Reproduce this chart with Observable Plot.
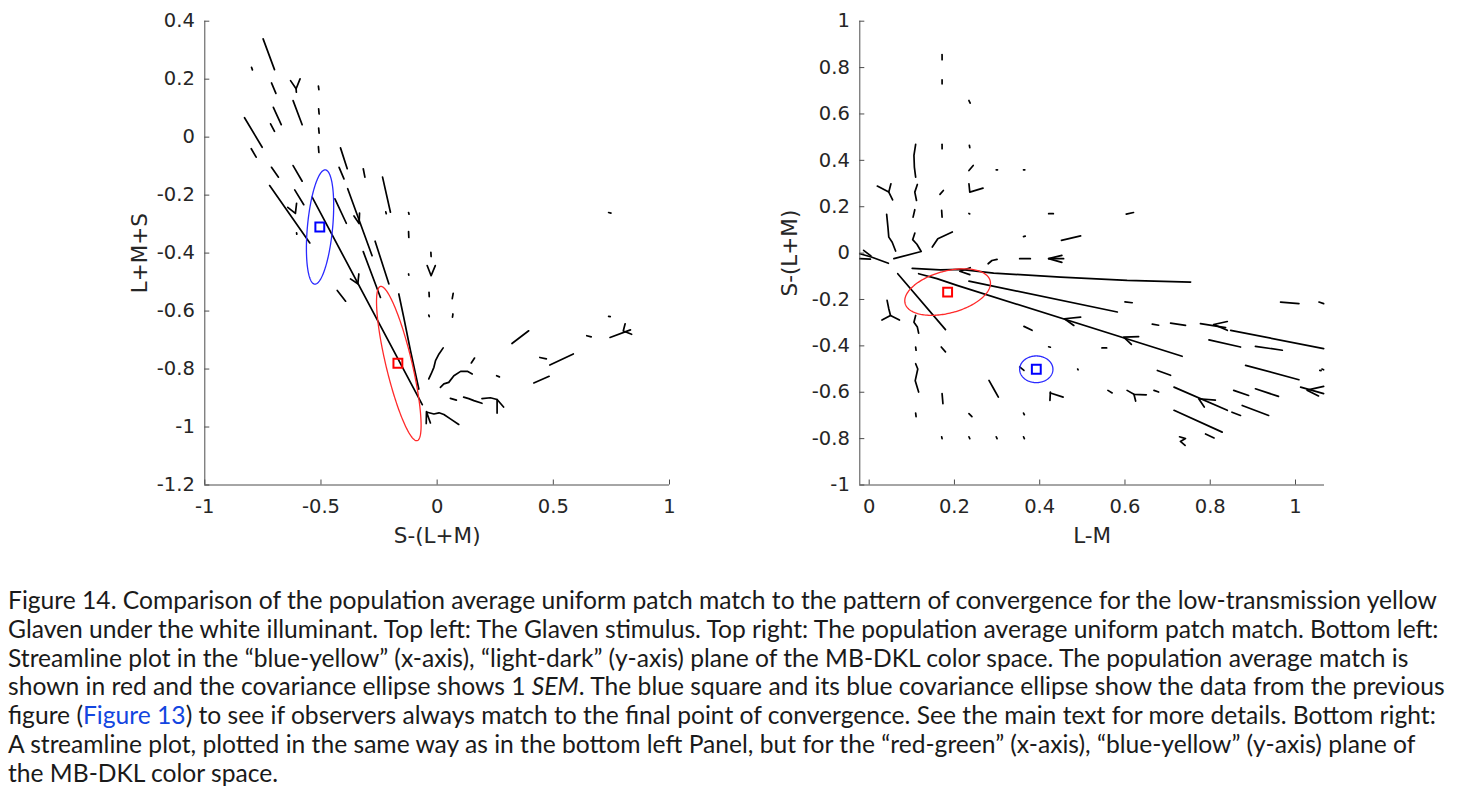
<!DOCTYPE html>
<html><head><meta charset="utf-8">
<script src="https://cdn.jsdelivr.net/npm/d3@7"></script>
<script src="https://cdn.jsdelivr.net/npm/@observablehq/plot@0.6"></script>
<style>
html,body{margin:0;padding:0;background:#fff;width:1460px;height:802px;overflow:hidden}
#charts{position:absolute;left:0;top:0;display:flex}
#charts svg{display:block}
#caption{position:absolute;left:8px;top:586px;font-family:Lato,"Open Sans",sans-serif;color:#1a1a1a;white-space:nowrap}
#caption .link{color:#1346e0}
</style></head><body>
<div id="charts"></div>
<div id="caption"></div>
<script>
// ---------------- data ----------------
const leftXTicks = [-1, -0.5, 0, 0.5, 1];
const leftYTicks = [0.4, 0.2, 0, -0.2, -0.4, -0.6, -0.8, -1, -1.2];
const rightXTicks = [0, 0.2, 0.4, 0.6, 0.8, 1];
const rightYTicks = [1, 0.8, 0.6, 0.4, 0.2, 0, -0.2, -0.4, -0.6, -0.8, -1];
const leftXLabel = "S-(L+M)";
const leftYLabel = "L+M+S";
const rightXLabel = "L-M";
const rightYLabel = "S-(L+M)";
const leftXDomain = [-1, 1];
const leftYDomain = [-1.2, 0.4];
const rightXDomain = [-0.022, 1.068];
const rightYDomain = [-1, 1];

// streamline segments (and their arrow heads), S-(L+M) vs L+M+S
const leftStreamlines = [
  [[-0.749,0.339],[-0.700,0.233]],
  [[-0.799,0.241],[-0.795,0.232]],
  [[-0.713,0.187],[-0.694,0.151]],
  [[-0.631,0.195],[-0.607,0.167],[-0.590,0.201]],
  [[-0.607,0.167],[-0.606,0.155]],
  [[-0.511,0.176],[-0.509,0.164]],
  [[-0.705,0.103],[-0.671,0.043]],
  [[-0.717,0.046],[-0.700,0.020]],
  [[-0.620,0.126],[-0.581,0.043]],
  [[-0.510,0.098],[-0.508,0.080]],
  [[-0.510,0.031],[-0.508,0.014]],
  [[-0.829,0.067],[-0.753,-0.035]],
  [[-0.800,-0.040],[-0.779,-0.069]],
  [[-0.511,-0.033],[-0.509,-0.053]],
  [[-0.416,-0.037],[-0.387,-0.109]],
  [[-0.422,-0.104],[-0.401,-0.144]],
  [[-0.318,-0.109],[-0.311,-0.138]],
  [[-0.713,-0.104],[-0.683,-0.138]],
  [[-0.620,-0.098],[-0.581,-0.152]],
  [[-0.235,-0.138],[-0.201,-0.259]],
  [[-0.221,-0.258],[-0.219,-0.264]],
  [[-0.613,-0.182],[-0.574,-0.233]],
  [[-0.643,-0.242],[-0.610,-0.263],[-0.605,-0.228]],
  [[-0.721,-0.167],[-0.548,-0.365]],
  [[-0.605,-0.330],[-0.604,-0.335]],
  [[-0.538,-0.207],[-0.064,-0.923]],
  [[-0.373,-0.489],[-0.3415,-0.506],[-0.337,-0.472]],
  [[-0.440,-0.213],[-0.391,-0.297]],
  [[-0.385,-0.178],[-0.280,-0.409]],
  [[-0.358,-0.272],[-0.336,-0.298],[-0.334,-0.262]],
  [[-0.123,-0.260],[-0.121,-0.266]],
  [[-0.123,-0.326],[-0.122,-0.346]],
  [[-0.123,-0.472],[-0.122,-0.476]],
  [[-0.027,-0.397],[-0.026,-0.412]],
  [[-0.043,-0.443],[-0.026,-0.478],[-0.008,-0.443]],
  [[-0.035,-0.535],[-0.034,-0.550]],
  [[-0.036,-0.614],[-0.034,-0.619]],
  [[0.069,-0.539],[0.065,-0.557]],
  [[0.068,-0.610],[0.066,-0.621]],
  [[-0.318,-0.395],[-0.244,-0.553]],
  [[-0.267,-0.359],[-0.208,-0.506]],
  [[-0.430,-0.529],[-0.394,-0.566]],
  [[-0.165,-0.541],[-0.144,-0.621],[-0.115,-0.736],[-0.079,-0.869]],
  [[-0.043,-0.949],[-0.014,-0.955],[0.008,-0.951],[0.029,-0.957],[0.057,-0.972],[0.093,-0.991]],
  [[-0.047,-0.988],[-0.046,-0.947],[-0.029,-0.986]],
  [[-0.036,-0.834],[-0.026,-0.817],[-0.014,-0.794],[-0.007,-0.771],[0.008,-0.748],[0.026,-0.727]],
  [[0.014,-0.863],[0.029,-0.851],[0.050,-0.846],[0.072,-0.823],[0.101,-0.808],[0.130,-0.808],[0.151,-0.817]],
  [[0.057,-0.901],[0.083,-0.907]],
  [[0.114,-0.897],[0.136,-0.902],[0.158,-0.909],[0.193,-0.918]],
  [[0.193,-0.902],[0.229,-0.899],[0.258,-0.905],[0.286,-0.931]],
  [[0.258,-0.905],[0.258,-0.952]],
  [[0.147,-0.779],[0.161,-0.762]],
  [[0.256,-0.823],[0.268,-0.827]],
  [[0.322,-0.712],[0.394,-0.668]],
  [[0.442,-0.760],[0.470,-0.765]],
  [[0.485,-0.786],[0.586,-0.748]],
  [[0.416,-0.848],[0.482,-0.825]],
  [[0.644,-0.685],[0.663,-0.689]],
  [[0.738,-0.618],[0.745,-0.619]],
  [[0.738,-0.260],[0.748,-0.262]],
  [[0.744,-0.691],[0.832,-0.665]],
  [[0.809,-0.644],[0.801,-0.669],[0.837,-0.680]]
];

// streamline segments (and their arrow heads), L-M vs S-(L+M)
const rightStreamlines = [
  [[0.171,0.856],[0.171,0.834]],
  [[0.171,0.747],[0.171,0.730]],
  [[0.234,0.658],[0.237,0.647]],
  [[0.171,0.469],[0.171,0.450]],
  [[0.235,0.465],[0.236,0.455]],
  [[0.109,0.469],[0.105,0.421],[0.106,0.371],[0.109,0.328]],
  [[0.234,0.356],[0.244,0.378]],
  [[0.298,0.359],[0.301,0.359]],
  [[0.362,0.359],[0.365,0.359]],
  [[0.019,0.289],[0.046,0.263],[0.051,0.299]],
  [[0.046,0.263],[0.055,0.230]],
  [[0.113,0.296],[0.107,0.263],[0.111,0.227]],
  [[0.174,0.270],[0.166,0.253]],
  [[0.234,0.299],[0.236,0.263],[0.267,0.280]],
  [[0.107,0.187],[0.103,0.155]],
  [[0.170,0.184],[0.171,0.155]],
  [[0.234,0.171],[0.236,0.169]],
  [[0.421,0.170],[0.432,0.170]],
  [[0.603,0.168],[0.620,0.175]],
  [[0.041,0.167],[0.044,0.112],[0.046,0.069],[0.054,0.047],[0.062,0.009]],
  [[0.107,0.086],[0.102,0.058],[0.112,0.038],[0.122,0.007],[0.058,-0.024]],
  [[0.148,0.026],[0.161,0.062],[0.195,0.091]],
  [[0.362,0.071],[0.366,0.073]],
  [[0.451,0.055],[0.496,0.074]],
  [[0.279,-0.046],[0.288,-0.032],[0.300,-0.027]],
  [[0.353,-0.024],[0.378,-0.024]],
  [[0.421,-0.024],[0.456,-0.024]],
  [[0.452,-0.010],[0.421,-0.024],[0.452,-0.040]],
  [[-0.022,-0.003],[0.005,-0.017],[0.045,-0.044]],
  [[-0.022,-0.024],[0.003,-0.026]],
  [[-0.013,0.012],[0.004,-0.012]],
  [[0.101,-0.066],[0.167,-0.072],[0.214,-0.070],[0.292,-0.086],[0.449,-0.104],[0.605,-0.118],[0.754,-0.125]],
  [[0.237,-0.063],[0.2125,-0.078],[0.236,-0.093]],
  [[0.116,-0.089],[0.159,-0.110],[0.206,-0.139],[0.734,-0.445]],
  [[0.496,-0.276],[0.458,-0.283],[0.480,-0.312]],
  [[0.632,-0.360],[0.597,-0.362],[0.615,-0.394]],
  [[0.234,-0.121],[0.582,-0.254]],
  [[0.067,-0.089],[0.179,-0.330]],
  [[0.042,-0.204],[0.046,-0.240],[0.050,-0.269]],
  [[0.030,-0.289],[0.050,-0.269],[0.071,-0.289]],
  [[0.109,-0.269],[0.105,-0.298],[0.113,-0.319],[0.116,-0.345]],
  [[0.363,-0.316],[0.382,-0.333]],
  [[0.421,-0.404],[0.425,-0.406]],
  [[0.546,-0.409],[0.557,-0.409]],
  [[0.600,-0.210],[0.617,-0.214]],
  [[0.664,-0.306],[0.679,-0.311]],
  [[0.707,-0.302],[0.742,-0.312]],
  [[0.777,-0.304],[0.836,-0.321]],
  [[0.840,-0.295],[0.808,-0.308],[0.840,-0.333]],
  [[0.848,-0.333],[1.066,-0.412]],
  [[0.797,-0.374],[0.871,-0.405]],
  [[0.906,-0.402],[0.969,-0.419]],
  [[0.965,-0.211],[1.008,-0.218]],
  [[1.055,-0.211],[1.066,-0.218]],
  [[0.883,-0.484],[1.008,-0.546]],
  [[1.057,-0.506],[1.060,-0.507]],
  [[1.012,-0.578],[1.066,-0.606]],
  [[1.066,-0.575],[1.027,-0.591],[1.054,-0.616]],
  [[0.855,-0.592],[0.890,-0.614]],
  [[0.906,-0.585],[0.960,-0.618]],
  [[0.715,-0.578],[0.840,-0.678]],
  [[0.812,-0.634],[0.773,-0.628],[0.786,-0.664]],
  [[0.851,-0.686],[0.871,-0.700]],
  [[0.875,-0.657],[0.937,-0.700]],
  [[0.715,-0.678],[0.828,-0.772]],
  [[0.789,-0.780],[0.809,-0.797]],
  [[0.728,-0.792],[0.742,-0.800],[0.730,-0.812],[0.741,-0.829]],
  [[0.676,-0.506],[0.707,-0.527]],
  [[0.668,-0.592],[0.679,-0.599]],
  [[0.605,-0.592],[0.621,-0.609],[0.650,-0.611]],
  [[0.621,-0.609],[0.625,-0.638]],
  [[0.560,-0.592],[0.570,-0.603]],
  [[0.425,-0.599],[0.424,-0.635]],
  [[0.425,-0.603],[0.455,-0.621]],
  [[0.281,-0.549],[0.292,-0.585],[0.303,-0.621]],
  [[0.109,-0.477],[0.114,-0.500],[0.108,-0.550],[0.116,-0.599]],
  [[0.109,-0.405],[0.110,-0.419]],
  [[0.169,-0.405],[0.179,-0.426]],
  [[0.171,-0.606],[0.173,-0.649]],
  [[0.109,-0.690],[0.110,-0.705]],
  [[0.234,-0.692],[0.241,-0.705]],
  [[0.362,-0.690],[0.364,-0.697]],
  [[0.170,-0.792],[0.171,-0.800]],
  [[0.234,-0.792],[0.236,-0.800]],
  [[0.298,-0.792],[0.300,-0.800]],
  [[0.362,-0.792],[0.364,-0.800]],
  [[0.489,-0.500],[0.490,-0.503]],
  [[1.062,-0.500],[1.066,-0.503]],
  [[0.353,-0.491],[0.363,-0.506]]
];

// population average match (red) and previous-figure match (blue): [x, y]
const leftMatch = [-0.169, -0.780];
const leftPrevMatch = [-0.505, -0.310];
const rightMatch = [0.184, -0.168];
const rightPrevMatch = [0.392, -0.501];
// covariance ellipses: centre, first semi-axis, second semi-axis (data units)
const leftMatchEllipse = [[-0.165, -0.781], [0.079, -0.266], [0.0544, 0.0104]];
const leftPrevEllipse = [[-0.504, -0.310], [-0.023, -0.197], [0.054, -0.004]];
const rightMatchEllipse = [[0.184, -0.168], [0.0997, 0.0491], [0.0127, -0.0875]];
const rightPrevEllipse = [[0.392, -0.501], [0.039, 0], [0, 0.0575]];

const captionLines = [
  "Figure 14. Comparison of the population average uniform patch match to the pattern of convergence for the low-transmission yellow",
  "Glaven under the white illuminant. Top left: The Glaven stimulus. Top right: The population average uniform patch match. Bottom left:",
  "Streamline plot in the \u201cblue-yellow\u201d (x-axis), \u201clight-dark\u201d (y-axis) plane of the MB-DKL color space. The population average match is",
  "shown in red and the covariance ellipse shows 1 <i>SEM</i>. The blue square and its blue covariance ellipse show the data from the previous",
  "figure (<span class=\"link\">Figure 13</span>) to see if observers always match to the final point of convergence. See the main text for more details. Bottom right:",
  "A streamline plot, plotted in the same way as in the bottom left Panel, but for the \u201cred-green\u201d (x-axis), \u201cblue-yellow\u201d (y-axis) plane of",
  "the MB-DKL color space."
];

// ---------------- drawing ----------------
const fmt = d => String(d);
function ellipsePoints([c, a, b]) {
  return d3.range(0, 181).map(k => {
    const t = 2 * Math.PI * k / 180;
    return {x: c[0] + a[0] * Math.cos(t) + b[0] * Math.sin(t), y: c[1] + a[1] * Math.cos(t) + b[1] * Math.sin(t)};
  });
}
function panel({lines, matchEll, prevEll, match, prev, xDomain, yDomain, xTicks, yTicks, xLabel, yLabel, marginLeft, marginRight, yLabelOffset}) {
  const rows = lines.flatMap((pts, i) => pts.map(([x, y]) => ({x, y, id: i})));
  return Plot.plot({
    width: 730, height: 560,
    marginTop: 20.7, marginBottom: 75.5, marginLeft, marginRight,
    x: {domain: xDomain}, y: {domain: yDomain},
    style: {fontFamily: "'DejaVu Sans'", fontSize: "19.5px", color: "#262626", background: "white", overflow: "visible"},
    marks: [
      Plot.line(rows, {x: "x", y: "y", z: "id", stroke: "black", strokeWidth: 1.7}),
      Plot.line(ellipsePoints(prevEll), {x: "x", y: "y", stroke: "#2a2aff", strokeWidth: 1.3}),
      Plot.line(ellipsePoints(matchEll), {x: "x", y: "y", stroke: "#ff2a2a", strokeWidth: 1.3}),
      Plot.dot([prev], {x: d => d[0], y: d => d[1], symbol: "square", r: 5, stroke: "#0000ff", strokeWidth: 2, fill: "none"}),
      Plot.dot([match], {x: d => d[0], y: d => d[1], symbol: "square", r: 5, stroke: "#ff0000", strokeWidth: 2, fill: "none"}),
      Plot.ruleX([xDomain[0]], {stroke: "#4d4d4d"}),
      Plot.ruleY([yDomain[0]], {stroke: "#4d4d4d"}),
      Plot.axisX({ticks: xTicks, tickFormat: fmt, tickSize: -5, tickPadding: 19.5, label: null, stroke: "#4d4d4d"}),
      Plot.axisY({ticks: yTicks, tickFormat: fmt, tickSize: -5, tickPadding: 15, label: null, stroke: "#4d4d4d"}),
      Plot.text([xLabel], {text: d => d, frameAnchor: "bottom", lineAnchor: "middle", textAnchor: "middle", dy: 51, fontSize: 21.5}),
      Plot.text([yLabel], {text: d => d, frameAnchor: "left", lineAnchor: "middle", textAnchor: "middle", dx: -yLabelOffset, rotate: -90, fontSize: 21.5})
    ]
  });
}

const charts = document.getElementById("charts");
charts.append(panel({
  lines: leftStreamlines, matchEll: leftMatchEllipse, prevEll: leftPrevEllipse, match: leftMatch, prev: leftPrevMatch,
  xDomain: leftXDomain, yDomain: leftYDomain, xTicks: leftXTicks, yTicks: leftYTicks,
  xLabel: leftXLabel, yLabel: leftYLabel, marginLeft: 204.3, marginRight: 61, yLabelOffset: 65
}));
charts.append(panel({
  lines: rightStreamlines, matchEll: rightMatchEllipse, prevEll: rightPrevEllipse, match: rightMatch, prev: rightPrevMatch,
  xDomain: rightXDomain, yDomain: rightYDomain, xTicks: rightXTicks, yTicks: rightYTicks,
  xLabel: rightXLabel, yLabel: rightYLabel, marginLeft: 129.3, marginRight: 136, yLabelOffset: 70
}));

// caption
const cap = document.getElementById("caption");
const ctx = document.createElement("canvas").getContext("2d");
ctx.font = "20px Lato";
const w = ctx.measureText(captionLines[0]).width;
const fs = 20 * 1432 / w;
cap.style.fontSize = fs + "px";
cap.style.lineHeight = "28.8px";
cap.innerHTML = captionLines.join("<br>");
</script>
</body></html>
